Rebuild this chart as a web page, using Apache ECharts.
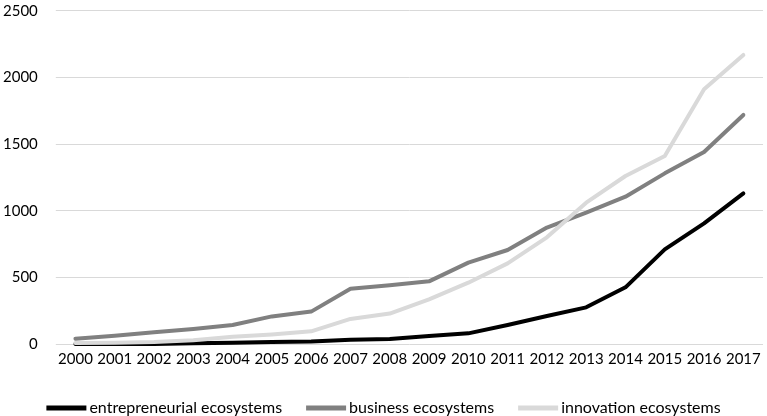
<!DOCTYPE html>
<html><head><meta charset="utf-8">
<script src="https://cdn.jsdelivr.net/npm/echarts@6/dist/echarts.min.js"></script>
<style>html,body{margin:0;padding:0;background:#fff}#c{width:767px;height:416px}</style>
</head><body><div id="c"></div>
<script>
const years = ['2000','2001','2002','2003','2004','2005','2006','2007','2008','2009','2010','2011','2012','2013','2014','2015','2016','2017'];
const entrepreneurial = [0,0,0,5,10,15,18,32,38,60,80,142,210,275,425,710,905,1130];
const business = [40,62,88,113,142,207,243,415,440,470,610,705,873,985,1105,1280,1440,1718];
const innovation = [8,10,15,28,55,72,95,188,228,335,460,605,800,1060,1260,1410,1910,2168];
const yTicks = {min:0, max:2500, interval:500};

const font = 'Lato';
const chart = echarts.init(document.getElementById('c'), null, {renderer:'canvas'});
function s(name, data, color){
  return {name, type:'line', data, symbol:'none', smooth:false,
    lineStyle:{color, width:4, cap:'round', join:'round'}, itemStyle:{color}};
}
chart.setOption({
  animation:false,
  textStyle:{fontFamily:font},
  grid:{left:52, right:4, top:10.7, bottom:72, containLabel:false},
  legend:{top:395, left:'center', icon:'rect', itemWidth:40, itemHeight:5, itemGap:24,
    textStyle:{fontFamily:font, fontSize:16, color:'#000', padding:[0,0,0,-2]},
    data:['entrepreneurial ecosystems','business ecosystems','innovation ecosystems']},
  xAxis:{type:'category', data:years, boundaryGap:true,
    axisLine:{show:false}, axisTick:{show:false},
    axisLabel:{fontFamily:font, fontSize:15, color:'#000', margin:8, interval:0}},
  yAxis:{type:'value', min:yTicks.min, max:yTicks.max, interval:yTicks.interval,
    axisLine:{show:false}, axisTick:{show:false},
    splitLine:{lineStyle:{color:'#d9d9d9', width:1}},
    axisLabel:{fontFamily:font, fontSize:15, color:'#000', margin:18, formatter:v=>String(v)}},
  series:[
    s('entrepreneurial ecosystems', entrepreneurial, '#000000'),
    s('business ecosystems', business, '#808080'),
    s('innovation ecosystems', innovation, '#d9d9d9')
  ]
});
</script></body></html>
